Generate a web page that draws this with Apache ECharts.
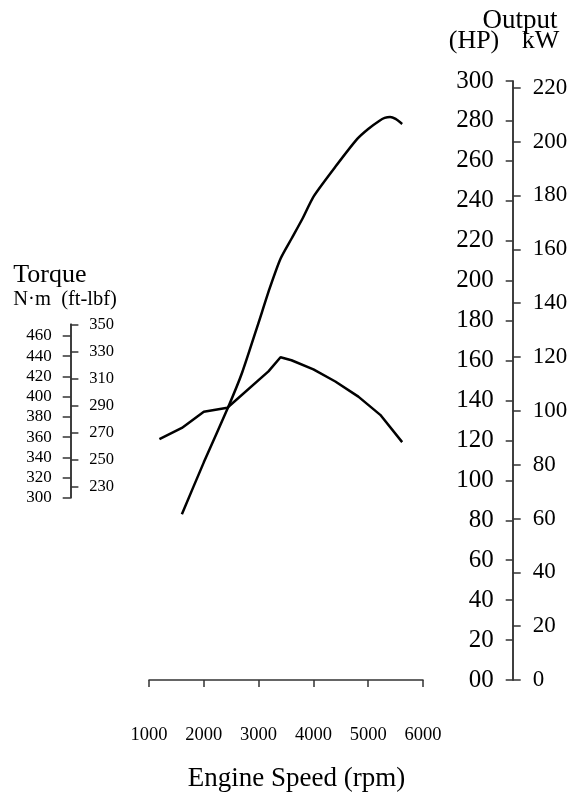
<!DOCTYPE html>
<html>
<head>
<meta charset="utf-8">
<script src="https://cdn.jsdelivr.net/npm/echarts@6/dist/echarts.min.js"></script>
<style>
html,body{margin:0;padding:0;background:#fff;}
#chart{width:578px;height:799px;}
</style>
</head>
<body>
<div id="chart"></div>
<script>
// ---- data ----
const powerRpm = [1600, 2000, 2450, 2700, 3000, 3200, 3400, 3600, 3800, 4000, 4400, 4800, 5000, 5200, 5300, 5400, 5500, 5620];
const powerHp  = [83, 109, 137, 154, 179, 196, 211, 221, 231, 242, 257, 271, 276, 280, 281.5, 282, 281, 278.5];

const torqueRpm = [1190, 1600, 2000, 2430, 3180, 3400, 3600, 4000, 4400, 4820, 5220, 5620];
const torqueNm  = [358, 369, 385, 389, 425, 439, 436, 427, 415, 400, 382, 355];

const rpmTicks = [1000, 2000, 3000, 4000, 5000, 6000];
const hpTicks = [0, 20, 40, 60, 80, 100, 120, 140, 160, 180, 200, 220, 240, 260, 280, 300];
const hpLabels = ['00', '20', '40', '60', '80', '100', '120', '140', '160', '180', '200', '220', '240', '260', '280', '300'];
const kwTicks = [0, 20, 40, 60, 80, 100, 120, 140, 160, 180, 200, 220];
const nmTicks = [300, 320, 340, 360, 380, 400, 420, 440, 460];
const ftlbfTicks = [230, 250, 270, 290, 310, 330, 350];

// ---- chart ----
const FONT = "'Liberation Serif', 'Times New Roman', serif";
const AX = '#333';
const chart = echarts.init(document.getElementById('chart'), null, {renderer: 'canvas'});

function lbl(extra) {
  return Object.assign({color: '#000', fontFamily: FONT}, extra);
}

const option = {
  animation: false,
  backgroundColor: '#fff',
  grid: [
    {left: 149, top: 81, width: 274, height: 599, outerBoundsMode: 'none', containLabel: false},
    {left: 149, top: 324.3, width: 274, height: 173.4, outerBoundsMode: 'none', containLabel: false}
  ],
  xAxis: [
    {
      gridIndex: 0, type: 'value', min: 1000, max: 6000, interval: 1000,
      position: 'bottom', offset: 23,
      axisLine: {show: true, lineStyle: {color: AX, width: 1.5}},
      axisTick: {show: true, length: 7, customValues: rpmTicks, lineStyle: {color: AX, width: 1.5}},
      axisLabel: lbl({fontSize: 18.5, margin: 23, customValues: rpmTicks, formatter: v => String(v)}),
      splitLine: {show: false}
    },
    {gridIndex: 1, type: 'value', min: 1000, max: 6000, show: false, splitLine: {show: false}}
  ],
  yAxis: [
    { // HP
      gridIndex: 0, type: 'value', min: 0, max: 300, position: 'right', offset: 89.7,
      axisLine: {show: true, lineStyle: {color: AX, width: 1.5}},
      axisTick: {show: true, inside: true, length: 7, customValues: hpTicks, lineStyle: {color: AX, width: 1.5}},
      axisLabel: lbl({inside: true, margin: 19, fontSize: 25, customValues: hpTicks,
        formatter: v => hpLabels[hpTicks.indexOf(v)]}),
      splitLine: {show: false}
    },
    { // kW
      gridIndex: 0, type: 'value', min: 0, max: 222.5, position: 'right', offset: 89.7,
      axisLine: {show: true, lineStyle: {color: AX, width: 1.5}},
      axisTick: {show: true, length: 8, customValues: kwTicks, lineStyle: {color: AX, width: 1.5}},
      axisLabel: lbl({margin: 20, fontSize: 23, customValues: kwTicks, formatter: v => String(v)}),
      splitLine: {show: false}
    },
    { // N·m
      gridIndex: 1, type: 'value', min: 300, max: 471.6, position: 'left', offset: 78.3,
      axisLine: {show: true, lineStyle: {color: AX, width: 1.5}},
      axisTick: {show: true, length: 8, customValues: nmTicks, lineStyle: {color: AX, width: 1.5}},
      axisLabel: lbl({margin: 19, fontSize: 17, customValues: nmTicks, formatter: v => String(v)}),
      splitLine: {show: false}
    },
    { // ft-lbf
      gridIndex: 1, type: 'value', min: 221.9, max: 350, position: 'left', offset: 78.3,
      axisLine: {show: true, lineStyle: {color: AX, width: 1.5}},
      axisTick: {show: true, inside: true, length: 7.7, customValues: ftlbfTicks, lineStyle: {color: AX, width: 1.5}},
      axisLabel: lbl({inside: true, margin: 18.6, fontSize: 16.5, customValues: ftlbfTicks, formatter: v => String(v)}),
      splitLine: {show: false}
    }
  ],
  series: [
    {
      name: 'Output', type: 'line', xAxisIndex: 0, yAxisIndex: 0,
      data: powerRpm.map((r, i) => [r, powerHp[i]]),
      showSymbol: false, smooth: 0.2, clip: false,
      lineStyle: {color: '#000', width: 2.5}
    },
    {
      name: 'Torque', type: 'line', xAxisIndex: 1, yAxisIndex: 2,
      data: torqueRpm.map((r, i) => [r, torqueNm[i]]),
      showSymbol: false, smooth: false, clip: false,
      lineStyle: {color: '#000', width: 2.5}
    }
  ],
  graphic: [
    {type: 'text', x: 520, y: 20.7, style: {text: 'Output', font: '27px ' + FONT, fill: '#000', textAlign: 'center', textVerticalAlign: 'middle'}},
    {type: 'text', x: 474, y: 41.4, style: {text: '(HP)', font: '26px ' + FONT, fill: '#000', textAlign: 'center', textVerticalAlign: 'middle'}},
    {type: 'text', x: 540.5, y: 41.4, style: {text: 'kW', font: '26px ' + FONT, fill: '#000', textAlign: 'center', textVerticalAlign: 'middle'}},
    {type: 'text', x: 13.3, y: 275.5, style: {text: 'Torque', font: '26px ' + FONT, fill: '#000', textAlign: 'left', textVerticalAlign: 'middle'}},
    {type: 'text', x: 13.3, y: 299.2, style: {text: 'N·m  (ft-lbf)', font: '20.5px ' + FONT, fill: '#000', textAlign: 'left', textVerticalAlign: 'middle'}},
    {type: 'text', x: 296.5, y: 779, style: {text: 'Engine Speed (rpm)', font: '27px ' + FONT, fill: '#000', textAlign: 'center', textVerticalAlign: 'middle'}}
  ]
};
chart.setOption(option);
</script>
</body>
</html>
